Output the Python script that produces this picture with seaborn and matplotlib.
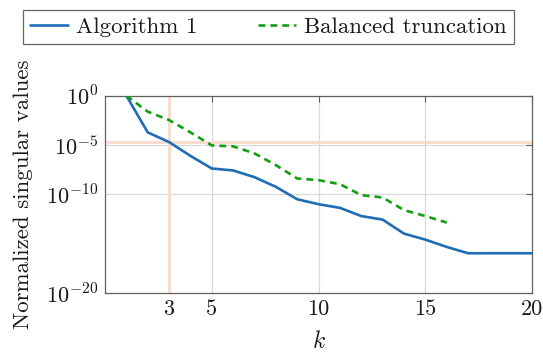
import numpy as np
import pandas as pd
import matplotlib
matplotlib.use("Agg")
import matplotlib.pyplot as plt
import seaborn as sns
from matplotlib.lines import Line2D

# Normalized singular values (log10) per truncation order k
k_alg = [1, 2, 3, 4, 5, 6, 7, 8, 9, 10, 11, 12, 13, 14, 15, 16, 17, 18, 19, 20]
log_sv_alg = [0.0, -3.72, -4.70, -6.10, -7.38, -7.58, -8.26, -9.24, -10.5, -11.0,
              -11.37, -12.2, -12.56, -13.98, -14.59, -15.33, -15.97, -15.97, -15.97, -15.97]
k_bt = [1, 2, 3, 4, 5, 6, 7, 8, 9, 10, 11, 12, 13, 14, 15, 16]
log_sv_bt = [0.0, -1.62, -2.47, -3.72, -5.04, -5.14, -5.85, -7.04, -8.39, -8.56,
             -8.97, -10.08, -10.32, -11.6, -12.2, -12.86]

series_names = ["Algorithm 1", "Balanced truncation"]
tolerance = 10 ** -4.74
chosen_k = 3
x_ticks = [3, 5, 10, 15, 20]
y_ticks = [1e0, 1e-5, 1e-10, 1e-20]
y_tick_labels = [r"$10^{0}$", r"$10^{-5}$", r"$10^{-10}$", r"$10^{-20}$"]

df = pd.concat([
    pd.DataFrame({"k": k_alg, "sv": 10.0 ** np.array(log_sv_alg), "method": series_names[0]}),
    pd.DataFrame({"k": k_bt, "sv": 10.0 ** np.array(log_sv_bt), "method": series_names[1]}),
])

sns.set_theme(style="white")
plt.rcParams["font.family"] = ["cmr10", "DejaVu Serif"]
plt.rcParams["mathtext.fontset"] = "cm"
plt.rcParams["axes.formatter.use_mathtext"] = True

fig = plt.figure(figsize=(5.43, 3.54), dpi=100)
ax = fig.add_axes([0.1934, 0.1723, 0.7866, 0.5574])

blue = "#1f6db5"
green = "#11a011"
peach = "#f7ddd0"
bt_dashes = (2.6, 1.9)

ax.axhline(tolerance, color=peach, lw=2.2, zorder=1)
ax.axvline(chosen_k, color=peach, lw=2.2, zorder=1)

sns.lineplot(data=df, x="k", y="sv", hue="method", style="method",
             palette=[blue, green], dashes=[(1, 0), bt_dashes],
             linewidth=1.9, ax=ax, legend=False, zorder=3)

ax.set_yscale("log")
ax.set_xlim(0, 20)
ax.set_ylim(1e-20, 1e0)
ax.set_xticks(x_ticks)
ax.set_xticklabels([str(t) for t in x_ticks])
ax.set_yticks(y_ticks)
ax.set_yticklabels(y_tick_labels)
ax.yaxis.set_minor_locator(matplotlib.ticker.NullLocator())
ax.xaxis.set_minor_locator(matplotlib.ticker.NullLocator())

# Grid only at the regular ticks
for xv in [5, 10, 15]:
    ax.axvline(xv, color="#d9d9d9", lw=0.9, zorder=0.5)
for yv in [1e-5, 1e-10]:
    ax.axhline(yv, color="#d9d9d9", lw=0.9, zorder=0.5)

ax.tick_params(axis="both", direction="in", length=4, width=0.8, color="#606060",
               labelsize=16, top=True, right=True, pad=5, labelcolor="#1a1a1a")
for s in ax.spines.values():
    s.set_color("#606060")
    s.set_linewidth(0.9)

ax.set_xlabel(r"$k$", fontsize=17, labelpad=8, color="#1a1a1a")
ax.set_ylabel("Normalized singular values", fontsize=16.5, labelpad=9, color="#1a1a1a")

handles = [Line2D([], [], color=blue, lw=1.9),
           Line2D([], [], color=green, lw=1.9, dashes=bt_dashes)]
leg = fig.legend(handles, series_names, loc="upper left",
                 bbox_to_anchor=(23 / 543, 1 - 10 / 354), ncol=2, frameon=True,
                 fancybox=False, edgecolor="#404040", fontsize=16.5,
                 handlelength=1.66, columnspacing=2.65, borderpad=0.3,
                 handletextpad=0.35, borderaxespad=0)
leg.get_frame().set_linewidth(0.9)
for t in leg.get_texts():
    t.set_color("#1a1a1a")

fig.savefig("out.png", dpi=100)
